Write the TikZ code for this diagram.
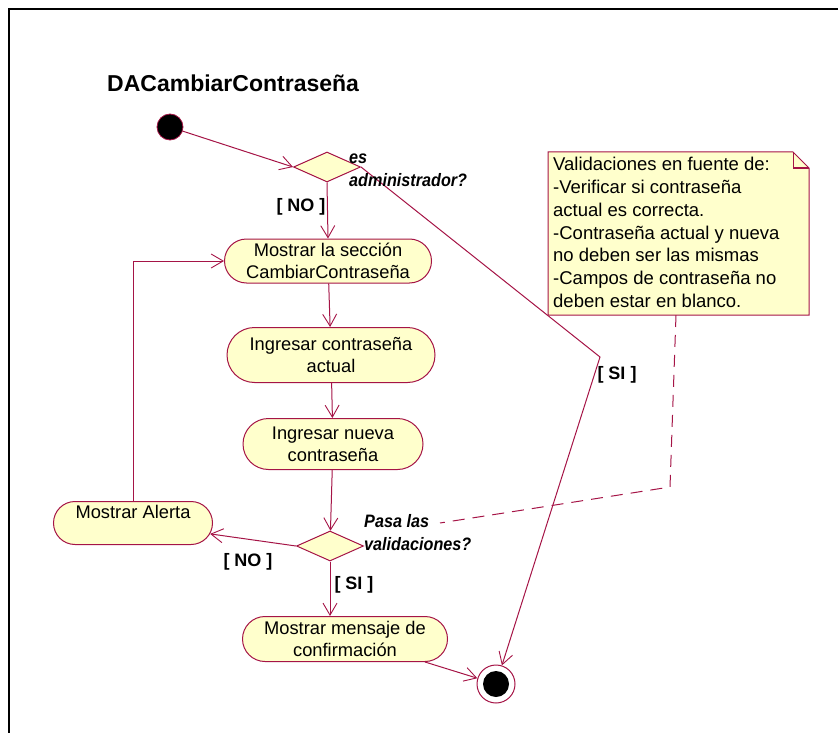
\documentclass[tikz,border=0pt]{standalone}
\usepackage{fontspec}
\setmainfont{Liberation Sans}
\newfontfamily\narrowfont[FakeStretch=0.9]{Liberation Sans}
\usetikzlibrary{arrows.meta,shapes.geometric,shapes.misc}
\definecolor{umlline}{RGB}{165,20,70}
\definecolor{umlfill}{RGB}{255,255,204}

\begin{document}
\begin{tikzpicture}[x=1pt,y=-1pt,
  act/.style={rounded rectangle, draw=umlline, fill=umlfill, line width=1pt,
    align=center, font=\fontsize{18.3}{22}\selectfont, inner sep=0pt},
  decision/.style={diamond, draw=umlline, fill=umlfill, line width=1pt,
    minimum width=67pt, minimum height=30pt, inner sep=0pt},
  flow/.style={draw=umlline, line width=1pt,
    -{Straight Barb[length=12pt,width=14pt,line width=0.9pt]}},
  guard/.style={font=\fontsize{18}{22}\selectfont\bfseries, inner sep=0pt},
  question/.style={font=\narrowfont\fontsize{18}{23}\selectfont\bfseries\itshape,
    align=left, inner sep=0pt, anchor=west},
]
\useasboundingbox (0,0) rectangle (838,733);

% diagram frame
\draw[line width=2pt] (9,733) -- (9,9) -- (838,9);

% title
\node[anchor=west, font=\fontsize{23}{27}\selectfont\bfseries, inner sep=0pt]
  (title) at (107,83) {DACambiarContraseña};

% start and end states
\node[circle, fill=black, draw=umlline, line width=0.8pt, minimum size=26pt, inner sep=0pt]
  (start) at (170,127) {};
\node[circle, fill=white, draw=umlline, line width=1pt, minimum size=38pt, inner sep=0pt]
  (final) at (496,684) {};
\node[circle, fill=black, minimum size=26pt, inner sep=0pt] (finalin) at (496,684) {};

% decisions
\node[decision] (d1) at (327,167) {};
\node[decision] (d2) at (330,546) {};

% activities
\node[act, minimum width=207pt, minimum height=44pt] (act1) at (328,261)
  {Mostrar la sección\\CambiarContraseña};
\node[act, minimum width=208pt, minimum height=55pt] (act2) at (331,355)
  {Ingresar contraseña\\actual};
\node[act, minimum width=180pt, minimum height=51pt] (act3) at (333,444)
  {Ingresar nueva\\contraseña};
\node[act, minimum width=159pt, minimum height=43pt] (alert) at (133,523)
  {Mostrar Alerta\\\mbox{}};
\node[act, minimum width=205pt, minimum height=45pt] (msg) at (345,639)
  {Mostrar mensaje de\\confirmación};

% transitions
\coordinate (siBend) at (600,357);
\draw[flow] (start) -- (d1.west);
\draw[flow] (d1.south) -- (act1.north);
\draw[flow] (d1.east) -- (siBend) -- (final);
\draw[flow] (act1) -- (act2);
\draw[flow] (act2) -- (act3);
\draw[flow] (act3) -- (d2);
\draw[flow] (d2.west) -- (alert);
\draw[flow] (alert.north) |- (act1.west);
\draw[flow] (d2.south) -- (d2.south |- msg.north);
\draw[flow] (msg.south east) -- (final);

% guards and decision labels
\node[guard] (gno1) at (301,207) {[ NO ]};
\node[guard] (gno2) at (248,562) {[ NO ]};
\node[guard] (gsi1) at (617,375) {[ SI ]};
\node[guard] (gsi2) at (354,585) {[ SI ]};
\node[question] (q1) at (349,170) {es\\administrador?};
\node[question] (q2) at (364,533) {Pasa las\\validaciones?};

% note with anchor line
\coordinate (noteBottom) at (676,315);
\coordinate (dashBend) at (670,487);
\coordinate (dashEnd) at (440,523);
\draw[umlline, line width=1pt, dash pattern=on 12pt off 8pt]
  (noteBottom) -- (dashBend) -- (dashEnd);
\filldraw[draw=umlline, fill=umlfill, line width=1pt]
  (548,152) -- (793,152) -- (809,168) -- (809,315) -- (548,315) -- cycle;
\draw[umlline, line width=1pt] (793,152) -- (793,168) -- (809,168);
\node[anchor=north west, align=left, inner sep=0pt,
  font=\fontsize{18.5}{22.8}\selectfont] (note) at (553,157)
  {Validaciones en fuente de:\\-Verificar si contraseña\\actual es correcta.\\%
   -Contraseña actual y nueva\\no deben ser las mismas\\%
   -Campos de contraseña no\\deben estar en blanco.};
\end{tikzpicture}
\end{document}
